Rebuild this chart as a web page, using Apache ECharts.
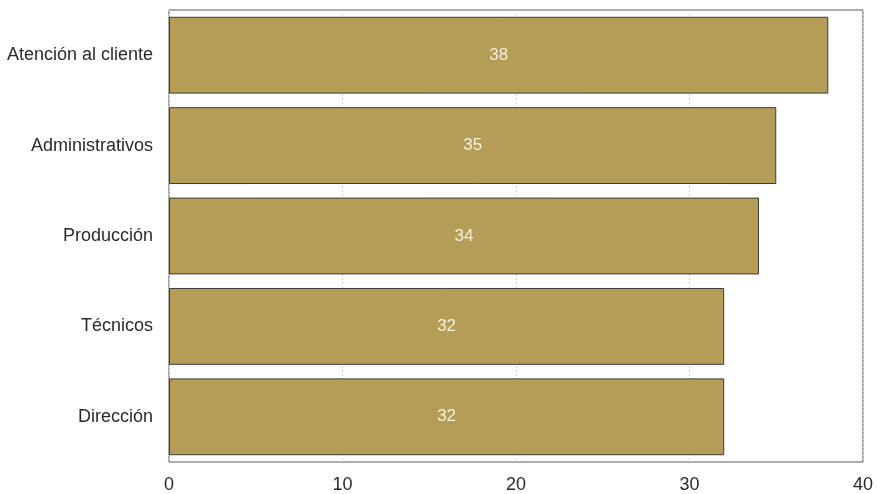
<!DOCTYPE html>
<html>
<head>
<meta charset="utf-8">
<script src="https://cdn.jsdelivr.net/npm/echarts@6/dist/echarts.min.js"></script>
<style>html,body{margin:0;padding:0;background:#fff;}#c{width:877px;height:494px;}</style>
</head>
<body>
<div id="c"></div>
<script>
const categories = ["Atención al cliente", "Administrativos", "Producción", "Técnicos", "Dirección"];
const values = [38, 35, 34, 32, 32];
const xTicks = [0, 10, 20, 30, 40];

const chart = echarts.init(document.getElementById('c'), null, {renderer: 'canvas'});
chart.setOption({
  animation: false,
  backgroundColor: '#ffffff',
  textStyle: {fontFamily: 'Liberation Sans, Arial, sans-serif'},
  grid: {left: 169, right: 14, top: 10, bottom: 32, show: true, borderColor: '#5a5a5a', borderWidth: 1, containLabel: false},
  xAxis: {
    type: 'value', min: xTicks[0], max: xTicks[xTicks.length - 1], interval: 10,
    axisLine: {show: false}, axisTick: {show: false},
    axisLabel: {color: '#2a2a2a', fontSize: 18, margin: 14, fontFamily: 'Liberation Sans, Arial, sans-serif'},
    splitLine: {show: true, lineStyle: {color: '#d4d4d4', type: [2, 2], width: 1}}
  },
  yAxis: {
    type: 'category', data: categories, inverse: true,
    axisLine: {show: false}, axisTick: {show: false},
    axisLabel: {color: '#2a2a2a', fontSize: 18, margin: 16, padding: [6, 0, 0, 0], fontFamily: 'Liberation Sans, Arial, sans-serif'}
  },
  series: [{
    type: 'bar', data: values, barCategoryGap: '15%',
    itemStyle: {color: '#b59d57', borderColor: '#3c3c3c', borderWidth: 1},
    label: {show: true, position: 'inside', color: '#f5f0dc', fontSize: 17, padding: [5, 0, 0, 0], fontFamily: 'Liberation Sans, Arial, sans-serif'}
  }]
});
</script>
</body>
</html>
